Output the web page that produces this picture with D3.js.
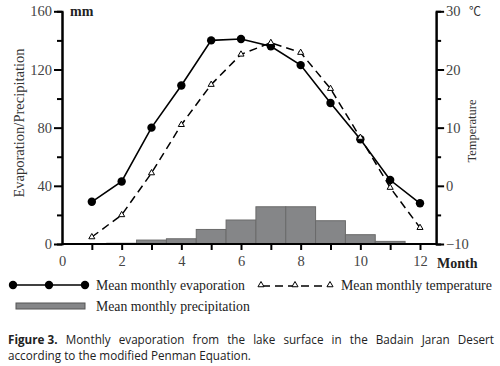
<!DOCTYPE html>
<html><head><meta charset="utf-8">
<script src="https://cdn.jsdelivr.net/npm/d3@7"></script>
<style>
body{margin:0;background:#fff;}
svg{display:block;}
</style></head>
<body>
<svg id="chart" width="500" height="366"></svg>
<script>
const months = [1,2,3,4,5,6,7,8,9,10,11,12];
const evaporation = [29,43,80,109,140,141,136,123,97,72,44,28];
const temperature = [-8.8,-5,2.2,10.5,17.4,22.6,24.6,22.9,16.7,8.3,-0.3,-7.2];
const precipitation = [0,0.5,2.7,3.6,10,16.5,25.6,25.6,16,6.4,1.8,0.2];
const xTickLabels = [0,2,4,6,8,10,12];
const leftTicks = [0,40,80,120,160];
const rightTicks = [-10,0,10,20,30];
const captionBold = "Figure 3.";
const captionLine1 = "Monthly evaporation from the lake surface in the Badain Jaran Desert";
const captionLine2 = "according to the modified Penman Equation.";

const svg = d3.select("#chart");
const serif = "'Liberation Serif','DejaVu Serif',serif";
const x = d3.scaleLinear().domain([0,12]).range([62,420]);
const yL = d3.scaleLinear().domain([0,160]).range([244,11.3]);
const yR = d3.scaleLinear().domain([-10,30]).range([244,11.3]);
const rightX = x(12.54);

// bars
svg.append("g").selectAll("rect").data(months).join("rect")
  .attr("x", d => x(d-0.5)).attr("width", x(1)-x(0))
  .attr("y", (d,i) => yL(precipitation[i])).attr("height", (d,i) => yL(0)-yL(precipitation[i]))
  .attr("fill","#858688").attr("stroke","#6a6a6a").attr("stroke-width",1);

// axes
const tickStyle = g => {
  g.selectAll(".domain").attr("stroke","#000").attr("stroke-width",2);
  g.selectAll(".tick line").attr("stroke","#000").attr("stroke-width",2);
  g.selectAll("text").attr("font-family",serif).attr("font-size",14.5).attr("fill","#444");
};
svg.append("g").attr("transform",`translate(${x(0)},0)`)
  .call(d3.axisLeft(yL).tickValues([20,60,100,140]).tickSize(5).tickFormat(""))
  .call(tickStyle);
svg.append("g").attr("transform",`translate(${x(0)},0)`)
  .call(d3.axisLeft(yL).tickValues(leftTicks).tickSize(8).tickSizeOuter(0).tickPadding(2))
  .call(tickStyle);
svg.append("g").attr("transform",`translate(${rightX},0)`)
  .call(d3.axisRight(yR).tickValues([-5,5,15,25]).tickSize(5).tickFormat(""))
  .call(tickStyle);
svg.append("g").attr("transform",`translate(${rightX},0)`)
  .call(d3.axisRight(yR).tickValues(rightTicks).tickSize(8).tickSizeOuter(0).tickPadding(2)
    .tickFormat(d => d===-10 ? "\u221210" : d))
  .call(tickStyle);
const xg = svg.append("g").attr("transform",`translate(0,${yL(0)})`);
xg.append("line").attr("x1",x(0)).attr("x2",rightX).attr("stroke","#000").attr("stroke-width",2);
xg.call(g => g.append("g").call(d3.axisBottom(x).tickValues(months).tickSize(6).tickFormat("")).call(tickStyle));
xg.call(g => g.append("g").call(d3.axisBottom(x).tickValues(xTickLabels).tickSize(0).tickPadding(12)).call(tickStyle));
xg.selectAll(".domain").remove();

// axis titles
svg.append("text").attr("x",70).attr("y",16).text("mm")
  .attr("font-family",serif).attr("font-size",14).attr("font-weight","bold").attr("fill","#222");
svg.append("text").attr("transform","translate(24,123) rotate(-90)").attr("text-anchor","middle")
  .text("Evaporation/Precipitation").attr("font-family",serif).attr("font-size",14.5).attr("fill","#333");
svg.append("text").attr("transform",`translate(476,131) rotate(-90)`).attr("text-anchor","middle")
  .text("Temperature").attr("font-family",serif).attr("font-size",12.5).attr("fill","#333");
svg.append("text").attr("x",rightX+33).attr("y",yR(30)+5).text("\u2103")
  .attr("font-family","'Noto Sans CJK SC',sans-serif").attr("font-size",12).attr("fill","#333");
svg.append("text").attr("x",437).attr("y",268).text("Month")
  .attr("font-family",serif).attr("font-size",14).attr("font-weight","bold").attr("fill","#222");

// evaporation line
const lineE = d3.line().x((d,i)=>x(months[i])).y(d=>yL(d));
svg.append("path").datum(evaporation).attr("d",lineE).attr("fill","none").attr("stroke","#000").attr("stroke-width",1.6);
svg.append("g").selectAll("circle").data(evaporation).join("circle")
  .attr("cx",(d,i)=>x(months[i])).attr("cy",d=>yL(d)).attr("r",4.2).attr("fill","#000");

// temperature line
const lineT = d3.line().x((d,i)=>x(months[i])).y(d=>yR(d));
svg.append("path").datum(temperature).attr("d",lineT).attr("fill","none").attr("stroke","#000")
  .attr("stroke-width",1.5).attr("stroke-dasharray","8,5");
const tri = d3.symbol().type(d3.symbolTriangle).size(16);
svg.append("g").selectAll("path").data(temperature).join("path")
  .attr("transform",(d,i)=>`translate(${x(months[i])},${yR(d)})`).attr("d",tri)
  .attr("fill","#fff").attr("stroke","#000").attr("stroke-width",1);

// legend
const lg = svg.append("g");
lg.append("line").attr("x1",13).attr("x2",85).attr("y1",285).attr("y2",285).attr("stroke","#000").attr("stroke-width",1.6);
[13,49,85].forEach(cx=>lg.append("circle").attr("cx",cx).attr("cy",285).attr("r",4.2).attr("fill","#000"));
const legText = (xx,yy,t) => lg.append("text").attr("x",xx).attr("y",yy).text(t)
  .attr("font-family",serif).attr("font-size",14.5).attr("fill","#222");
legText(96,290,"Mean monthly evaporation");
lg.append("line").attr("x1",262).attr("x2",330).attr("y1",286).attr("y2",286).attr("stroke","#000")
  .attr("stroke-width",1.5).attr("stroke-dasharray","8,5");
[261,295,330].forEach(cx=>lg.append("path").attr("transform",`translate(${cx},285)`).attr("d",tri)
  .attr("fill","#fff").attr("stroke","#000").attr("stroke-width",1));
legText(341,290,"Mean monthly temperature");
lg.append("rect").attr("x",16).attr("y",303).attr("width",69).attr("height",6)
  .attr("fill","#858688").attr("stroke","#555").attr("stroke-width",1);
legText(96,311,"Mean monthly precipitation");
const legWidths = [149,151,154];
lg.selectAll("text").each(function(d,i){
  const w = this.getComputedTextLength();
  d3.select(this).attr("font-size", 14.5*legWidths[i]/w);
});

// caption (first line justified)
const sans = "'Open Sans','Noto Sans',sans-serif";
const cap = svg.append("g").attr("font-family",sans).attr("font-size",11.7).attr("fill","#222");
const tb = cap.append("text").attr("x",8).attr("y",343.5).attr("font-weight","bold").text(captionBold);
const wb = tb.node().getComputedTextLength();
const tr = cap.append("text").attr("y",343.5).text(captionLine1);
const wr = tr.node().getComputedTextLength();
const nSp = captionLine1.split(" ").length - 1;
const spaceW = 3.2;
const extra = (486 - wb - wr - spaceW) / (nSp + 1);
tr.attr("x", 8 + wb + spaceW + extra).attr("word-spacing", extra);
cap.append("text").attr("x",8).attr("y",359.5).text(captionLine2);
</script>
</body></html>
